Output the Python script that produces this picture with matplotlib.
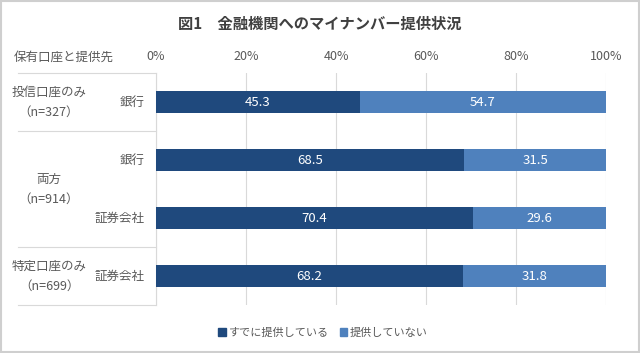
import matplotlib
matplotlib.use("Agg")
import matplotlib.pyplot as plt
from matplotlib import transforms
from matplotlib.patches import Rectangle, Patch

plt.rcParams['font.family'] = ['Noto Sans CJK JP', 'DejaVu Sans']

# ---- data ----
group_names = ["投信口座のみ", "両方", "特定口座のみ"]
group_ns = ["（n=327）", "（n=914）", "（n=699）"]
group_rows = [[0], [1, 2], [3]]
providers = ["銀行", "銀行", "証券会社", "証券会社"]
provided = [45.3, 68.5, 70.4, 68.2]
not_provided = [54.7, 31.5, 29.6, 31.8]
xticks = [0, 20, 40, 60, 80, 100]
series_names = ["すでに提供している", "提供していない"]
title = "図1　金融機関へのマイナンバー提供状況"
corner_label = "保有口座と提供先"

DARK = "#1F497D"
LIGHT = "#4F81BD"
TXT = "#595959"
GRID = "#D9D9D9"

W, H = 640, 353
fig = plt.figure(figsize=(W / 100, H / 100), dpi=100)
ax = fig.add_axes([156 / W, 48 / H, 450 / W, 232 / H])

ypos = list(range(len(providers)))
b1 = ax.barh(ypos, provided, height=0.39, color=DARK, zorder=3)
b2 = ax.barh(ypos, not_provided, left=provided, height=0.39, color=LIGHT, zorder=3)
ax.bar_label(b1, labels=[f"{v:.1f}" for v in provided], label_type='center',
             color='white', fontsize=9.5)
ax.bar_label(b2, labels=[f"{v:.1f}" for v in not_provided], label_type='center',
             color='white', fontsize=9.5)

ax.set_xlim(0, 100)
ax.set_ylim(len(providers) - 0.5, -0.5)
ax.set_xticks(xticks)
ax.set_xticklabels([f"{t}%" for t in xticks])
ax.xaxis.tick_top()
ax.tick_params(axis='x', length=0, pad=7, labelsize=9, labelcolor=TXT)
ax.set_yticks([])
for s in ax.spines.values():
    s.set_visible(False)
ax.grid(axis='x', color=GRID, lw=0.8, zorder=0)
ax.set_axisbelow(True)

# left table labels
bt = transforms.blended_transform_factory(fig.transFigure, ax.transData)
for i, p in enumerate(providers):
    ax.text(145 / W, i, p, transform=bt, ha='right', va='center',
            fontsize=9, color=TXT)
for name, n, rows in zip(group_names, group_ns, group_rows):
    yc = sum(rows) / len(rows)
    ax.text(49 / W, yc - 0.17, name, transform=bt, ha='center', va='center',
            fontsize=9, color=TXT)
    ax.text(49 / W, yc + 0.18, n, transform=bt, ha='center', va='center',
            fontsize=9, color=TXT)

# table lines
x0, x1 = 18 / W, 156 / W
bounds = [-0.5] + [max(r) + 0.5 for r in group_rows]
for yb in bounds:
    ax.plot([x0, x1], [yb, yb], transform=bt, color=GRID, lw=0.8, clip_on=False)
ax.plot([x1, x1], [-0.5, len(providers) - 0.5], transform=bt, color=GRID,
        lw=0.8, clip_on=False)

fig.text(14 / W, 1 - 57 / H, corner_label, ha='left', va='center',
         fontsize=9, color=TXT)
fig.text(0.5, 1 - 24 / H, title, ha='center', va='center', fontsize=11,
         fontweight='bold', color='#404040')

handles = [Patch(color=DARK), Patch(color=LIGHT)]
fig.legend(handles, series_names, loc='center', bbox_to_anchor=(323 / W, 1 - 333 / H),
           ncol=2, frameon=False, fontsize=8, handlelength=0.7, handleheight=0.7,
           handletextpad=0.2, columnspacing=1.0, labelcolor=TXT)

fig.patches.append(Rectangle((0.002, 0.003), 0.996, 0.994, transform=fig.transFigure,
                             fill=False, edgecolor="#CFCFCF", lw=1.5))

fig.savefig("out.png", dpi=100)
